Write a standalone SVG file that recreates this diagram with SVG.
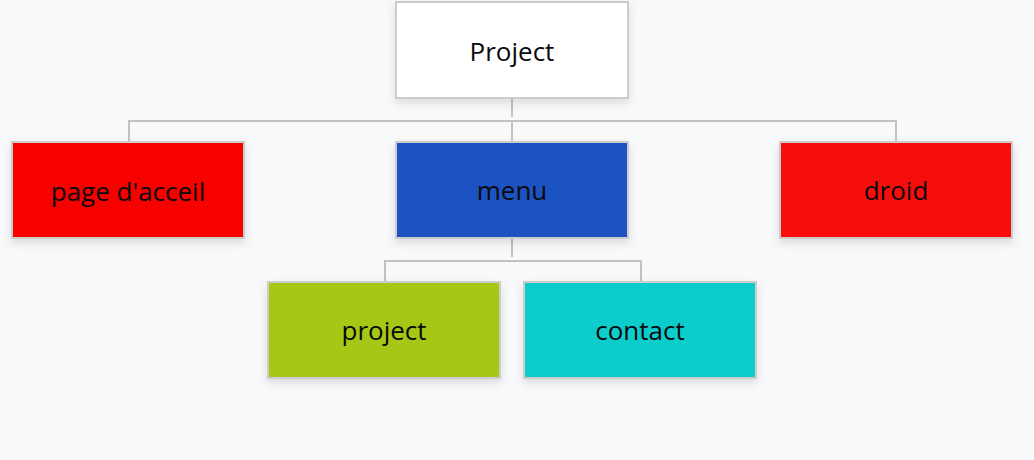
<svg xmlns="http://www.w3.org/2000/svg" width="1034" height="460" viewBox="0 0 1034 460">
  <defs>
    <filter id="shadow" x="-20%" y="-20%" width="140%" height="150%">
      <feDropShadow dx="0" dy="4" stdDeviation="5" flood-color="#000" flood-opacity="0.12"/>
    </filter>
    <style>
      .box { stroke: #cccccc; stroke-width: 2; filter: url(#shadow); }
      .lbl { font-family: "Open Sans", "Noto Sans", sans-serif; font-size: 26px; fill: #0a0a0a; text-anchor: middle; }
      .conn { fill: none; stroke: #c2c2c2; stroke-width: 2; }
    </style>
  </defs>
  <rect width="1034" height="460" fill="#f8f9fb"/>
  <g id="connectors">
    <path class="conn" d="M512 99 V117"/>
    <path class="conn" d="M129 141 V121 H896 V141"/>
    <path class="conn" d="M512 121 V141"/>
    <path class="conn" d="M512 239 V257"/>
    <path class="conn" d="M385 281 V261 H641 V281"/>
  </g>
  <g id="node-project-root">
    <rect class="box" x="396" y="2" width="232" height="96" fill="#ffffff"/>
    <text class="lbl" x="512" y="61">Project</text>
  </g>
  <g id="node-page-acceil">
    <rect class="box" x="12" y="142" width="232" height="96" fill="#f60000"/>
    <text class="lbl" x="128" y="201">page d'acceil</text>
  </g>
  <g id="node-menu">
    <rect class="box" x="396" y="142" width="232" height="96" fill="#1c52c2"/>
    <text class="lbl" x="512" y="200">menu</text>
  </g>
  <g id="node-droid">
    <rect class="box" x="780" y="142" width="232" height="96" fill="#f80b0b"/>
    <text class="lbl" x="896" y="200">droid</text>
  </g>
  <g id="node-project">
    <rect class="box" x="268" y="282" width="232" height="96" fill="#a6c716"/>
    <text class="lbl" x="384" y="340">project</text>
  </g>
  <g id="node-contact">
    <rect class="box" x="524" y="282" width="232" height="96" fill="#10cccc"/>
    <text class="lbl" x="640" y="340">contact</text>
  </g>
</svg>
